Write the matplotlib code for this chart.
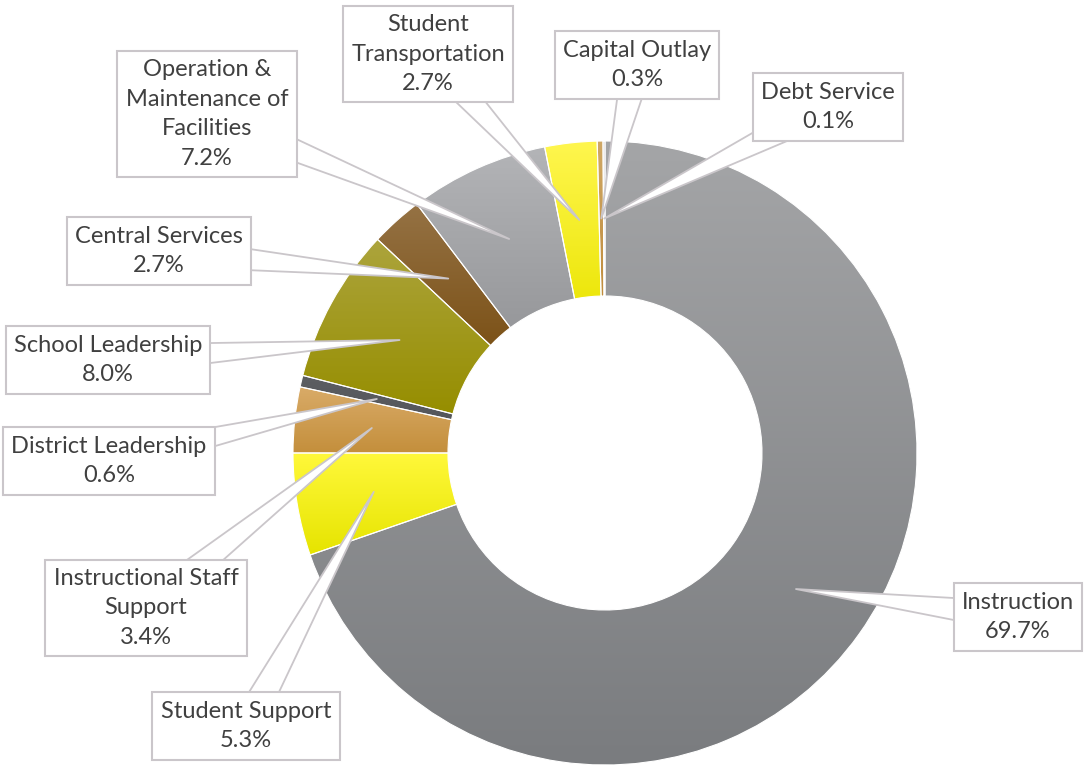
import numpy as np
import matplotlib.pyplot as plt
from matplotlib.colors import to_rgb

labels = ['Instruction', 'Student Support', 'Instructional Staff\nSupport',
          'District Leadership', 'School Leadership', 'Central Services',
          'Operation &\nMaintenance of\nFacilities', 'Student\nTransportation',
          'Capital Outlay', 'Debt Service']
values = [69.7, 5.3, 3.4, 0.6, 8.0, 2.7, 7.2, 2.7, 0.3, 0.1]
# gradient colours (top, bottom) per slice
tops = ['#a4a5a7', '#fff83a', '#d9ab68', '#5c5e62', '#aca43c', '#957244',
        '#b3b4b7', '#fff64e', '#cfa866', '#a0a1a3']
bottoms = ['#7a7c7f', '#e6e400', '#c48f3c', '#55575b', '#968e00', '#7c5218',
           '#97989b', '#ede70c', '#c08c3c', '#9a9b9d']
# label box centres in pixel coords (x, y from top)
label_pos = [(1018, 617), (246, 726), (146, 608), (109, 461), (108, 360),
             (159, 251), (207, 114), (428, 54), (637, 65), (828, 107)]

W, H = 1086, 765
cx, cy = 605, H - 453
R, ring = 312, 155

fig = plt.figure(figsize=(W / 100, H / 100), dpi=100)
ax = fig.add_axes([0, 0, 1, 1])

wedges, _ = ax.pie(values, startangle=90, counterclock=False, radius=R,
                   center=(cx, cy),
                   wedgeprops=dict(width=ring, edgecolor='white', linewidth=0.8))

for w, c0, c1 in zip(wedges, tops, bottoms):
    ext = w.get_path().get_extents()
    grad = np.linspace(np.array(to_rgb(c1)), np.array(to_rgb(c0)), 64)[:, None, :]
    w.set_facecolor('none')
    im = ax.imshow(grad, extent=[ext.x0, ext.x1, ext.y0, ext.y1], origin='lower',
                   aspect='auto', interpolation='bilinear', zorder=0.5)
    im.set_clip_path(w)

rmid = R - ring / 2
for w, lab, v, (lx, ly) in zip(wedges, labels, values, label_pos):
    ang = np.deg2rad((w.theta1 + w.theta2) / 2)
    tip = (cx + rmid * np.cos(ang), cy + rmid * np.sin(ang))
    ax.annotate(f'{lab}\n{v:.1f}%', xy=tip, xytext=(lx, H - ly),
                ha='center', va='center', fontsize=17, family='Lato',
                color='#404040', linespacing=1.5, zorder=5,
                bbox=dict(boxstyle='square,pad=0.35', fc='white',
                          ec='#cac6ca', lw=1.5),
                arrowprops=dict(arrowstyle='wedge,tail_width=1.3,shrink_factor=0.5',
                                fc='white', ec='#cac6ca', lw=1.3,
                                patchA=None, shrinkA=0, shrinkB=0))

ax.set_xlim(0, W)
ax.set_ylim(0, H)
ax.axis('off')
fig.savefig('out.png', dpi=100)
